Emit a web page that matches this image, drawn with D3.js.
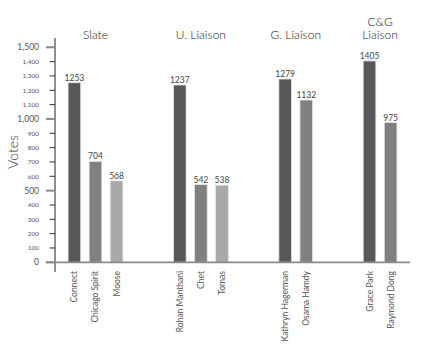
<!DOCTYPE html>
<html><head><meta charset="utf-8">
<script src="https://cdn.jsdelivr.net/npm/d3@7"></script>
<style>
html,body{margin:0;padding:0;background:#fff;}
svg{display:block;font-family:Lato,"Open Sans",sans-serif;}
</style></head>
<body>
<svg id="chart" width="421" height="360"></svg>
<script>
const groupTitles = [["Slate"], ["U. Liaison"], ["G. Liaison"], ["C&G", "Liaison"]];
const candidates = ["Connect", "Chicago Spirit", "Moose", "Rohan Manthani", "Chet", "Tomas", "Kathryn Hagerman", "Osama Hamdy", "Grace Park", "Raymond Dong"];
const votes = [1253, 704, 568, 1237, 542, 538, 1279, 1132, 1405, 975];
const groupIndex = [0, 0, 0, 1, 1, 1, 2, 2, 3, 3];
const yTicks = d3.range(0, 1501, 100);
const rankColors = ["#58585a", "#808082", "#a9a9ab"];

const svg = d3.select("#chart");

// slot layout: groups separated by two empty slots
const slots = [];
candidates.forEach((c, i) => {
  if (i > 0 && groupIndex[i] !== groupIndex[i - 1]) { slots.push("_gap" + i + "a"); slots.push("_gap" + i + "b"); }
  slots.push(c);
});

const x = d3.scaleBand().domain(slots).range([55, 410]).paddingInner(0.4).paddingOuter(0.62);
const y = d3.scaleLinear().domain([0, 1500]).range([262.3, 47.3]);

// rank within group
const rank = candidates.map((c, i) => groupIndex.slice(0, i).filter(g => g === groupIndex[i]).length);

// y axis line
svg.append("line").attr("x1", 55).attr("x2", 55).attr("y1", 38).attr("y2", 272)
  .attr("stroke", "#444").attr("stroke-width", 1.2);

// ticks
const tg = svg.append("g");
yTicks.forEach(t => {
  const major = t % 500 === 0;
  tg.append("line").attr("x1", major ? 46 : 49.5).attr("x2", 55)
    .attr("y1", y(t)).attr("y2", y(t))
    .attr("stroke", major ? "#8a8a8a" : "#333").attr("stroke-width", major ? 2 : 1);
  tg.append("text").attr("x", 39).attr("y", y(t)).attr("dy", "0.35em")
    .attr("text-anchor", "end").attr("fill", "#555")
    .attr("font-size", major ? 8.5 : 6.5)
    .text(d3.format(",")(t));
});

// bars
svg.append("g").selectAll("rect").data(candidates).join("rect")
  .attr("x", d => x(d)).attr("width", x.bandwidth())
  .attr("y", (d, i) => y(votes[i])).attr("height", (d, i) => y(0) - y(votes[i]))
  .attr("fill", (d, i) => rankColors[rank[i]])
  .attr("stroke", "#e4e4e4").attr("stroke-width", 0.8);

// baseline
svg.append("line").attr("x1", 46).attr("x2", 410).attr("y1", y(0)).attr("y2", y(0))
  .attr("stroke", "#8a8a8a").attr("stroke-width", 1.8);

// value labels
svg.append("g").selectAll("text").data(candidates).join("text")
  .attr("x", d => x(d) + x.bandwidth() / 2)
  .attr("y", (d, i) => y(votes[i]) - 2)
  .attr("text-anchor", "middle").attr("fill", "#444").attr("font-size", 8.5)
  .text((d, i) => votes[i]);

// category labels
svg.append("g").selectAll("text").data(candidates).join("text")
  .attr("transform", d => `translate(${x(d) + x.bandwidth() / 2},271) rotate(-90)`)
  .attr("dy", "0.35em").attr("text-anchor", "end")
  .attr("fill", "#555").attr("font-size", 8.5)
  .text(d => d);

// group titles
groupTitles.forEach((lines, g) => {
  const members = candidates.filter((c, i) => groupIndex[i] === g);
  const cx = (x(members[0]) + x(members[members.length - 1]) + x.bandwidth()) / 2;
  const t = svg.append("text").attr("text-anchor", "middle").attr("fill", "#222")
    .attr("font-size", 12).attr("font-weight", 300);
  lines.forEach((ln, k) => {
    t.append("tspan").attr("x", cx).attr("y", 39 - (lines.length - 1 - k) * 13.5).text(ln);
  });
});

// y axis title
svg.append("text").attr("transform", "translate(18,152) rotate(-90)")
  .attr("text-anchor", "middle").attr("fill", "#333").attr("font-size", 14)
  .attr("font-weight", 300).text("Votes");
</script>
</body></html>
